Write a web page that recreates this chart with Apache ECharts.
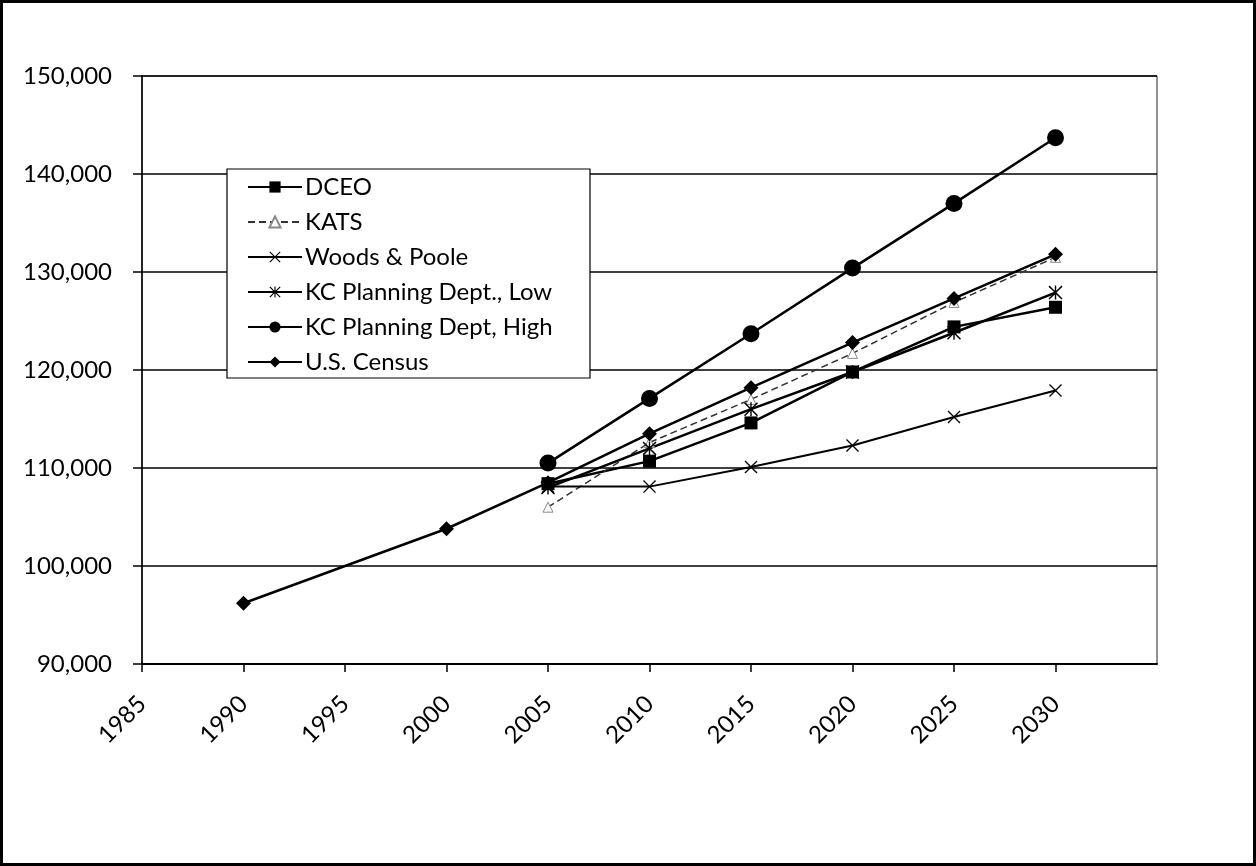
<!DOCTYPE html>
<html>
<head>
<meta charset="utf-8">
<script src="https://cdn.jsdelivr.net/npm/echarts@6/dist/echarts.min.js"></script>
<style>
  html, body { margin: 0; padding: 0; background: #fff; }
  #chart { width: 1256px; height: 866px; }
</style>
</head>
<body>
<div id="chart"></div>
<script>
const years = [1990, 2000, 2005, 2010, 2015, 2020, 2025, 2030];
const dceo   = [null, null, 108400, 110700, 114600, 119800, 124400, 126400];
const kats   = [null, null, 106000, 112600, 117000, 121700, 126900, 131500];
const woods  = [null, null, 108100, 108100, 110100, 112300, 115200, 117900];
const kcLow  = [null, null, 108000, 112000, 116000, 119800, 123800, 127900];
const kcHigh = [null, null, 110500, 117100, 123700, 130400, 137000, 143700];
const census = [96200, 103800, 108500, 113500, 118200, 122800, 127300, 131800];
const seriesNames = ['DCEO', 'KATS', 'Woods & Poole', 'KC Planning Dept., Low', 'KC Planning Dept, High', 'U.S. Census'];

const FONT = 'Lato';
const X_PATH = 'path://M0,1.5 L1.5,0 L10,8.5 L18.5,0 L20,1.5 L11.5,10 L20,18.5 L18.5,20 L10,11.5 L1.5,20 L0,18.5 L8.5,10 Z';
const AST_PATH = 'path://M0,1.5 L1.5,0 L10,8.5 L18.5,0 L20,1.5 L11.5,10 L20,18.5 L18.5,20 L10,11.5 L1.5,20 L0,18.5 L8.5,10 Z M9,0 L11,0 L11,20 L9,20 Z';

function pairs(vals) {
  const out = [];
  vals.forEach((v, i) => { if (v !== null) out.push([years[i], v]); });
  return out;
}

function mk(name, vals, symbol, size, extra) {
  return Object.assign({
    name: name,
    type: 'line',
    data: pairs(vals),
    symbol: symbol,
    symbolSize: size,
    lineStyle: { color: '#000', width: 2.5 },
    itemStyle: { color: '#000' },
    emphasis: { disabled: true },
    animation: false
  }, extra || {});
}

const chart = echarts.init(document.getElementById('chart'), null, { renderer: 'canvas' });
chart.setOption({
  backgroundColor: '#fff',
  animation: false,
  graphic: [
    { type: 'rect', z: 100, shape: { x: 1.5, y: 1.5, width: 1253, height: 863 },
      style: { fill: null, stroke: '#000', lineWidth: 3 } },
    { type: 'rect', z: 5, shape: { x: 227, y: 169, width: 363, height: 209 },
      style: { fill: '#fff', stroke: '#000', lineWidth: 1.2 } }
  ],
  grid: { left: 142, right: 99, top: 76, bottom: 202, show: true, borderColor: '#222', borderWidth: 1 },
  legend: {
    z: 10,
    orient: 'vertical',
    left: 227, top: 169,
    padding: [6, 10, 6, 20],
    itemGap: 11,
    itemWidth: 54,
    itemHeight: 14,
    data: seriesNames,
    textStyle: { fontFamily: FONT, fontSize: 24, lineHeight: 24, color: '#000', padding: [0, 0, 0, -2] },
    inactiveColor: '#000'
  },
  xAxis: {
    type: 'value',
    min: 1985, max: 2035, interval: 5,
    axisLine: { lineStyle: { color: '#000', width: 2 } },
    axisTick: { length: 8, lineStyle: { color: '#000', width: 1.5 } },
    splitLine: { show: false },
    axisLabel: {
      rotate: 45, margin: 36, showMaxLabel: false,
      fontFamily: FONT, fontSize: 24, color: '#000',
      formatter: v => (v >= 2035 ? '' : String(v))
    }
  },
  yAxis: {
    type: 'value',
    min: 90000, max: 150000, interval: 10000,
    axisLine: { show: true, lineStyle: { color: '#000', width: 1.5 } },
    axisTick: { show: true, length: 9, lineStyle: { color: '#000', width: 1.5 } },
    splitLine: { lineStyle: { color: '#000', width: 1.5 } },
    axisLabel: {
      margin: 30, fontFamily: FONT, fontSize: 24, color: '#000',
      formatter: v => v.toLocaleString('en-US')
    }
  },
  series: [
    mk('DCEO', dceo, 'rect', 13),
    mk('KATS', kats, 'triangle', 10, {
      lineStyle: { color: '#333', width: 1.5, type: [7, 4] },
      itemStyle: { color: '#fff', borderColor: '#888', borderWidth: 1 }
    }),
    mk('Woods & Poole', woods, X_PATH, 13, { lineStyle: { color: '#000', width: 2 } }),
    mk('KC Planning Dept., Low', kcLow, AST_PATH, 14),
    mk('KC Planning Dept, High', kcHigh, 'circle', 17),
    mk('U.S. Census', census, 'diamond', 15)
  ]
});
</script>
</body>
</html>
